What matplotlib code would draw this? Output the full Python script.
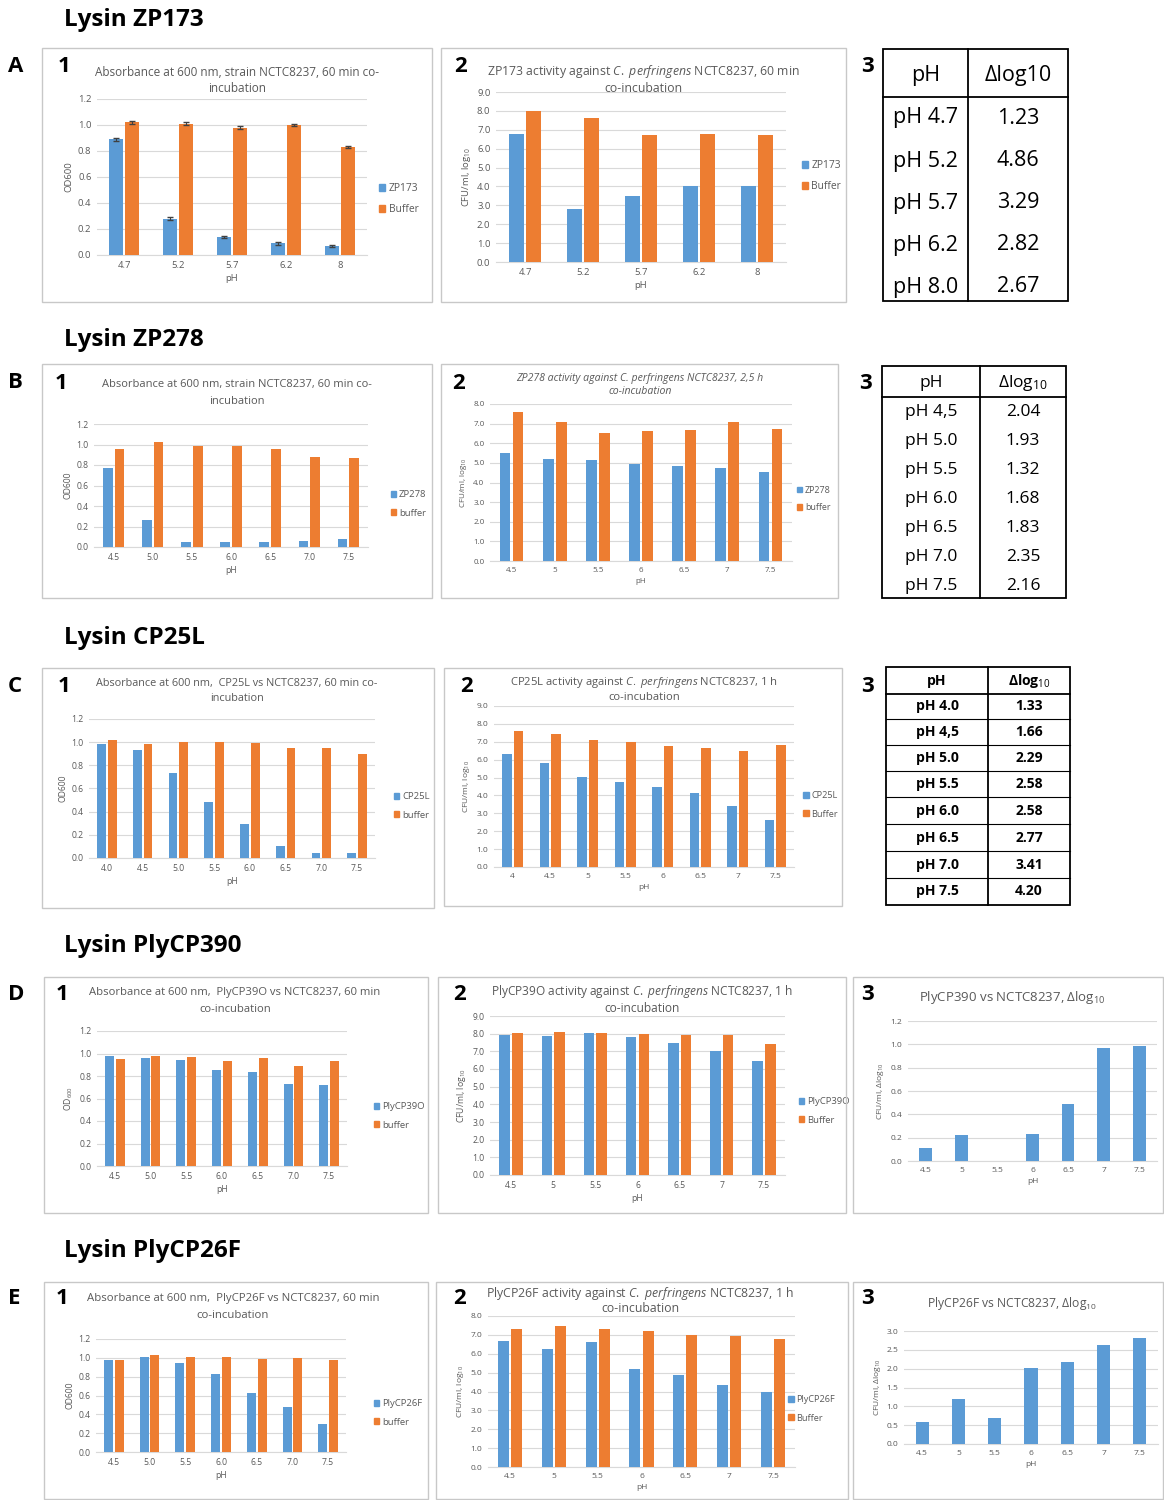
import numpy as np
import matplotlib.pyplot as plt
from matplotlib.patches import Rectangle
from matplotlib.lines import Line2D

plt.rcParams['font.family'] = ['Open Sans', 'DejaVu Sans']
plt.rcParams['mathtext.fontset'] = 'custom'
plt.rcParams['mathtext.rm'] = 'Open Sans'
plt.rcParams['mathtext.it'] = 'Open Sans:italic'
plt.rcParams['mathtext.bf'] = 'Open Sans:bold'

W, H = 1164, 1500
BLUE = "#5B9BD5"
ORANGE = "#ED7D31"
GRAY = "#595959"

# ---- data ----
# row A, ZP173
a_ph = ["4.7", "5.2", "5.7", "6.2", "8"]
a1_lysin = [0.89, 0.28, 0.14, 0.09, 0.07]
a1_buffer = [1.02, 1.01, 0.98, 1.00, 0.83]
a1_err_lysin = [0.01, 0.01, 0.01, 0.01, 0.01]
a1_err_buffer = [0.01, 0.01, 0.01, 0.01, 0.01]
a2_lysin = [6.8, 2.8, 3.5, 4.0, 4.0]
a2_buffer = [8.0, 7.6, 6.75, 6.8, 6.7]
a3_ph = ["pH 4.7", "pH 5.2", "pH 5.7", "pH 6.2", "pH 8.0"]
a3_dlog = ["1.23", "4.86", "3.29", "2.82", "2.67"]

# row B, ZP278
b1_ph = ["4.5", "5.0", "5.5", "6.0", "6.5", "7.0", "7.5"]
b2_ph = ["4.5", "5", "5.5", "6", "6.5", "7", "7.5"]
b1_lysin = [0.77, 0.26, 0.05, 0.05, 0.05, 0.06, 0.08]
b1_buffer = [0.96, 1.02, 0.99, 0.99, 0.96, 0.88, 0.87]
b2_lysin = [5.5, 5.2, 5.15, 4.95, 4.85, 4.75, 4.55]
b2_buffer = [7.6, 7.1, 6.5, 6.6, 6.7, 7.1, 6.75]
b3_ph = ["pH 4,5", "pH 5.0", "pH 5.5", "pH 6.0", "pH 6.5", "pH 7.0", "pH 7.5"]
b3_dlog = ["2.04", "1.93", "1.32", "1.68", "1.83", "2.35", "2.16"]

# row C, CP25L
c1_ph = ["4.0", "4.5", "5.0", "5.5", "6.0", "6.5", "7.0", "7.5"]
c2_ph = ["4", "4.5", "5", "5.5", "6", "6.5", "7", "7.5"]
c1_lysin = [0.98, 0.93, 0.73, 0.48, 0.29, 0.10, 0.04, 0.04]
c1_buffer = [1.02, 0.98, 1.00, 1.00, 0.99, 0.95, 0.95, 0.90]
c2_lysin = [6.3, 5.8, 5.05, 4.75, 4.45, 4.15, 3.4, 2.6]
c2_buffer = [7.6, 7.45, 7.1, 7.0, 6.75, 6.65, 6.5, 6.8]
c3_ph = ["pH 4.0", "pH 4,5", "pH 5.0", "pH 5.5", "pH 6.0", "pH 6.5", "pH 7.0", "pH 7.5"]
c3_dlog = ["1.33", "1.66", "2.29", "2.58", "2.58", "2.77", "3.41", "4.20"]

# row D, PlyCP390
d1_ph = ["4.5", "5.0", "5.5", "6.0", "6.5", "7.0", "7.5"]
d2_ph = ["4.5", "5", "5.5", "6", "6.5", "7", "7.5"]
d1_lysin = [0.98, 0.96, 0.94, 0.85, 0.84, 0.73, 0.72]
d1_buffer = [0.95, 0.98, 0.97, 0.93, 0.96, 0.89, 0.93]
d2_lysin = [7.95, 7.85, 8.05, 7.8, 7.5, 7.0, 6.45]
d2_buffer = [8.05, 8.1, 8.05, 8.0, 7.95, 7.95, 7.4]
d3_dlog = [0.11, 0.22, 0.0, 0.23, 0.49, 0.97, 0.99]

# row E, PlyCP26F
e1_ph = ["4.5", "5.0", "5.5", "6.0", "6.5", "7.0", "7.5"]
e2_ph = ["4.5", "5", "5.5", "6", "6.5", "7", "7.5"]
e1_lysin = [0.98, 1.01, 0.94, 0.83, 0.63, 0.48, 0.30]
e1_buffer = [0.98, 1.03, 1.01, 1.01, 0.99, 1.00, 0.98]
e2_lysin = [6.7, 6.25, 6.6, 5.2, 4.85, 4.35, 3.95]
e2_buffer = [7.3, 7.45, 7.3, 7.2, 7.0, 6.95, 6.8]
e3_dlog = [0.58, 1.2, 0.68, 2.02, 2.17, 2.63, 2.82]

fig = plt.figure(figsize=(W / 100, H / 100), dpi=100)


def fx(x):
    return x / W


def fy(y):
    return 1 - y / H


def frame(x0, y0, x1, y1):
    fig.add_artist(Rectangle((fx(x0), fy(y1)), (x1 - x0) / W, (y1 - y0) / H,
                             transform=fig.transFigure, fill=False,
                             edgecolor="#C8C8C8", lw=1.0))


def add_axes(x0, y0, x1, y1):
    return fig.add_axes([fx(x0), fy(y1), (x1 - x0) / W, (y1 - y0) / H])


def bar_panel(box, cats, series, names, colors, ymax, step, ylabel,
              title, title_xy, legend_xy, errs=None, fs=6.8, tfs=8.3,
              title_style="normal", tgap=16):
    ax = add_axes(*box)
    x = np.arange(len(cats))
    n = len(series)
    if n == 2:
        width, offs = 0.25, [-0.15, 0.15]
    else:
        width, offs = 0.36, [0.0]
    handles = []
    for i, vals in enumerate(series):
        kw = {}
        if errs is not None:
            kw = dict(yerr=errs[i], error_kw=dict(ecolor="#404040", lw=0.8, capsize=2))
        ax.bar(x + offs[i], vals, width, color=colors[i], zorder=3, **kw)
        handles.append(Rectangle((0, 0), 1, 1, color=colors[i]))
    ax.set_xlim(-0.5, len(cats) - 0.5)
    ax.set_ylim(0, ymax)
    ticks = np.arange(0, ymax + step / 2, step)
    ax.set_yticks(ticks)
    ax.set_yticklabels([f"{t:.1f}" for t in ticks], fontsize=fs, color=GRAY)
    ax.set_xticks(x)
    ax.set_xticklabels(cats, fontsize=fs, color=GRAY)
    ax.tick_params(length=0, pad=4)
    ax.grid(axis="y", color="#D9D9D9", lw=0.8, zorder=0)
    for s in ["top", "right", "left"]:
        ax.spines[s].set_visible(False)
    ax.spines["bottom"].set_color("#D9D9D9")
    ax.set_xlabel("pH", fontsize=fs, color=GRAY, labelpad=3)
    ax.set_ylabel(ylabel, fontsize=fs, color=GRAY, labelpad=3)
    lines = title.split("\n")
    y_first = title_xy[1] - tgap * (len(lines) - 1) / 2
    for k, line in enumerate(lines):
        fig.text(fx(title_xy[0]), fy(y_first + k * tgap), line, ha="center",
                 va="center", fontsize=tfs, color=GRAY, style=title_style)
    if names:
        ax.legend(handles, names, loc="center left",
                  bbox_to_anchor=(fx(legend_xy[0]), fy(legend_xy[1])),
                  bbox_transform=fig.transFigure, frameon=False,
                  fontsize=fs + 0.6, handlelength=0.6, handleheight=0.6,
                  handletextpad=0.3, labelspacing=1.0, labelcolor=GRAY)
    return ax


def table(box, xdiv, header_y, header_line, rows_y, labels, vals, fs, weight,
          hdr, row_lines=None):
    x0, y0, x1, y1 = box
    frame_k = dict(transform=fig.transFigure, color="black", lw=1.3)
    fig.add_artist(Rectangle((fx(x0), fy(y1)), (x1 - x0) / W, (y1 - y0) / H,
                             transform=fig.transFigure, fill=False,
                             edgecolor="black", lw=1.3))
    fig.add_artist(Line2D([fx(xdiv), fx(xdiv)], [fy(y0), fy(y1)], **frame_k))
    fig.add_artist(Line2D([fx(x0), fx(x1)], [fy(header_line), fy(header_line)], **frame_k))
    if row_lines:
        for yl in row_lines:
            fig.add_artist(Line2D([fx(x0), fx(x1)], [fy(yl), fy(yl)],
                                  transform=fig.transFigure, color="black", lw=0.8))
    cx1 = (x0 + xdiv) / 2
    cx2 = (xdiv + x1) / 2
    fig.text(fx(cx1), fy(header_y), "pH", ha="center", va="center",
             fontsize=fs, weight=weight)
    fig.text(fx(cx2), fy(header_y), hdr, ha="center", va="center",
             fontsize=fs, weight=weight)
    for yy, lab, v in zip(rows_y, labels, vals):
        fig.text(fx(cx1), fy(yy), lab, ha="center", va="center", fontsize=fs, weight=weight)
        fig.text(fx(cx2), fy(yy), v, ha="center", va="center", fontsize=fs, weight=weight)


# ---- row headings, letters, panel numbers ----
headings = [("Lysin ZP173", 20), ("Lysin ZP278", 340), ("Lysin CP25L", 638),
            ("Lysin PlyCP390", 946), ("Lysin PlyCP26F", 1251)]
for txt, yy in headings:
    fig.text(fx(64), fy(yy), txt, ha="left", va="center", fontsize=17.5, weight="bold")

letters = [("A", 67), ("B", 382), ("C", 686), ("D", 995), ("E", 1298)]
for lt, yy in letters:
    fig.text(fx(8), fy(yy), lt, ha="left", va="center", fontsize=16, weight="bold")

numbers = [(64, 461, 867, 67), (61, 459, 866, 383), (64, 467, 867, 686),
           (62, 460, 867, 994), (62, 460, 867, 1299)]
for n1, n2, n3, yy in numbers:
    for xx, t in zip((n1, n2, n3), ("1", "2", "3")):
        fig.text(fx(xx), fy(yy), t, ha="center", va="center", fontsize=16, weight="bold")

# ---- frames ----
for b in [(42, 48, 432, 302), (441, 48, 846, 302),
          (42, 364, 432, 598), (441, 364, 838, 598),
          (42, 668, 434, 908), (444, 668, 842, 906),
          (44, 977, 428, 1213), (438, 977, 846, 1213), (853, 977, 1163, 1213),
          (44, 1282, 428, 1499), (436, 1282, 848, 1499), (853, 1282, 1163, 1499)]:
    frame(*b)

cfu = "CFU/ml, log$_{10}$"
pp = "$\\it{C.\\ perfringens}$"

# row A
bar_panel((97, 99, 367, 255), a_ph, [a1_lysin, a1_buffer], ["ZP173", "Buffer"],
          [BLUE, ORANGE], 1.2, 0.2, "OD600",
          "Absorbance at 600 nm, strain NCTC8237, 60 min co-\nincubation", (237, 80),
          (370, 199), errs=[a1_err_lysin, a1_err_buffer], tfs=8.5)
bar_panel((496, 92, 786, 262), a_ph, [a2_lysin, a2_buffer], ["ZP173", "Buffer"],
          [BLUE, ORANGE], 9.0, 1.0, cfu,
          "ZP173 activity against " + pp + " NCTC8237, 60 min\nco-incubation", (643, 80),
          (793, 176), tfs=8.8)
table((883, 49, 1068, 301), 968, 75, 97, [118, 161, 203, 245, 287],
      a3_ph, a3_dlog, 15.5, "normal", "Δlog10")

# row B
bar_panel((94, 424, 368, 547), b1_ph, [b1_lysin, b1_buffer], ["ZP278", "buffer"],
          [BLUE, ORANGE], 1.2, 0.2, "OD600",
          "Absorbance at 600 nm, strain NCTC8237, 60 min co-\nincubation", (237, 393),
          (382, 504), fs=6.2, tfs=8.0)
bar_panel((490, 404, 792, 561), b2_ph, [b2_lysin, b2_buffer], ["ZP278", "buffer"],
          [BLUE, ORANGE], 8.0, 1.0, cfu,
          "ZP278 activity against C. perfringens NCTC8237, 2,5 h\nco-incubation", (640, 385),
          (789, 499), fs=5.8, tfs=7.6, title_style="italic", tgap=13)
table((882, 366, 1066, 598), 980, 383, 397, [412, 441, 470, 499, 528, 557, 586],
      b3_ph, b3_dlog, 12.5, "normal", "Δlog$_{10}$")

# row C
bar_panel((89, 719, 375, 858), c1_ph, [c1_lysin, c1_buffer], ["CP25L", "buffer"],
          [BLUE, ORANGE], 1.2, 0.2, "OD600",
          "Absorbance at 600 nm,  CP25L vs NCTC8237, 60 min co-\nincubation", (237, 691),
          (385, 806), fs=6.2, tfs=7.8, tgap=15)
bar_panel((494, 706, 794, 867), c2_ph, [c2_lysin, c2_buffer], ["CP25L", "Buffer"],
          [BLUE, ORANGE], 9.0, 1.0, cfu,
          "CP25L activity against " + pp + " NCTC8237, 1 h\nco-incubation", (644, 690),
          (795, 805), fs=6.0, tfs=8.1, tgap=15)
table((886, 667, 1070, 905), 988, 681, 694, [706, 732, 758, 784, 811, 838, 865, 891],
      c3_ph, c3_dlog, 10, "bold", "Δlog$_{10}$",
      row_lines=[719, 745, 771, 797, 824, 851, 878])

# row D
bar_panel((97, 1031, 347, 1166), d1_ph, [d1_lysin, d1_buffer], ["PlyCP39O", "buffer"],
          [BLUE, ORANGE], 1.2, 0.2, "OD$_{600}$",
          "Absorbance at 600 nm,  PlyCP39O vs NCTC8237, 60 min\nco-incubation", (235, 1001),
          (365, 1116), fs=6.2, tfs=8.1)
bar_panel((490, 1016, 785, 1175), d2_ph, [d2_lysin, d2_buffer], ["PlyCP39O", "Buffer"],
          [BLUE, ORANGE], 9.0, 1.0, cfu,
          "PlyCP39O activity against " + pp + " NCTC8237, 1 h\nco-incubation", (642, 1000),
          (790, 1111), fs=6.2, tfs=8.6)
bar_panel((908, 1021, 1157, 1161), d2_ph, [d3_dlog], None, [BLUE], 1.2, 0.2,
          "CFU/ml, Δlog$_{10}$", "PlyCP390 vs NCTC8237, Δlog$_{10}$", (1012, 997),
          None, fs=6.0, tfs=9.5)

# row E
bar_panel((96, 1339, 346, 1452), e1_ph, [e1_lysin, e1_buffer], ["PlyCP26F", "buffer"],
          [BLUE, ORANGE], 1.2, 0.2, "OD600",
          "Absorbance at 600 nm,  PlyCP26F vs NCTC8237, 60 min\nco-incubation", (233, 1307),
          (365, 1413), fs=6.2, tfs=8.2)
bar_panel((488, 1316, 795, 1467), e2_ph, [e2_lysin, e2_buffer], ["PlyCP26F", "Buffer"],
          [BLUE, ORANGE], 8.0, 1.0, cfu,
          "PlyCP26F activity against " + pp + " NCTC8237, 1 h\nco-incubation", (640, 1301),
          (780, 1409), fs=6.0, tfs=8.8)
bar_panel((904, 1331, 1158, 1444), e2_ph, [e3_dlog], None, [BLUE], 3.0, 0.5,
          "CFU/ml, Δlog$_{10}$", "PlyCP26F vs NCTC8237, Δlog$_{10}$", (1012, 1304),
          None, fs=6.0, tfs=8.7)

fig.savefig("out.png", dpi=100, facecolor="white")
